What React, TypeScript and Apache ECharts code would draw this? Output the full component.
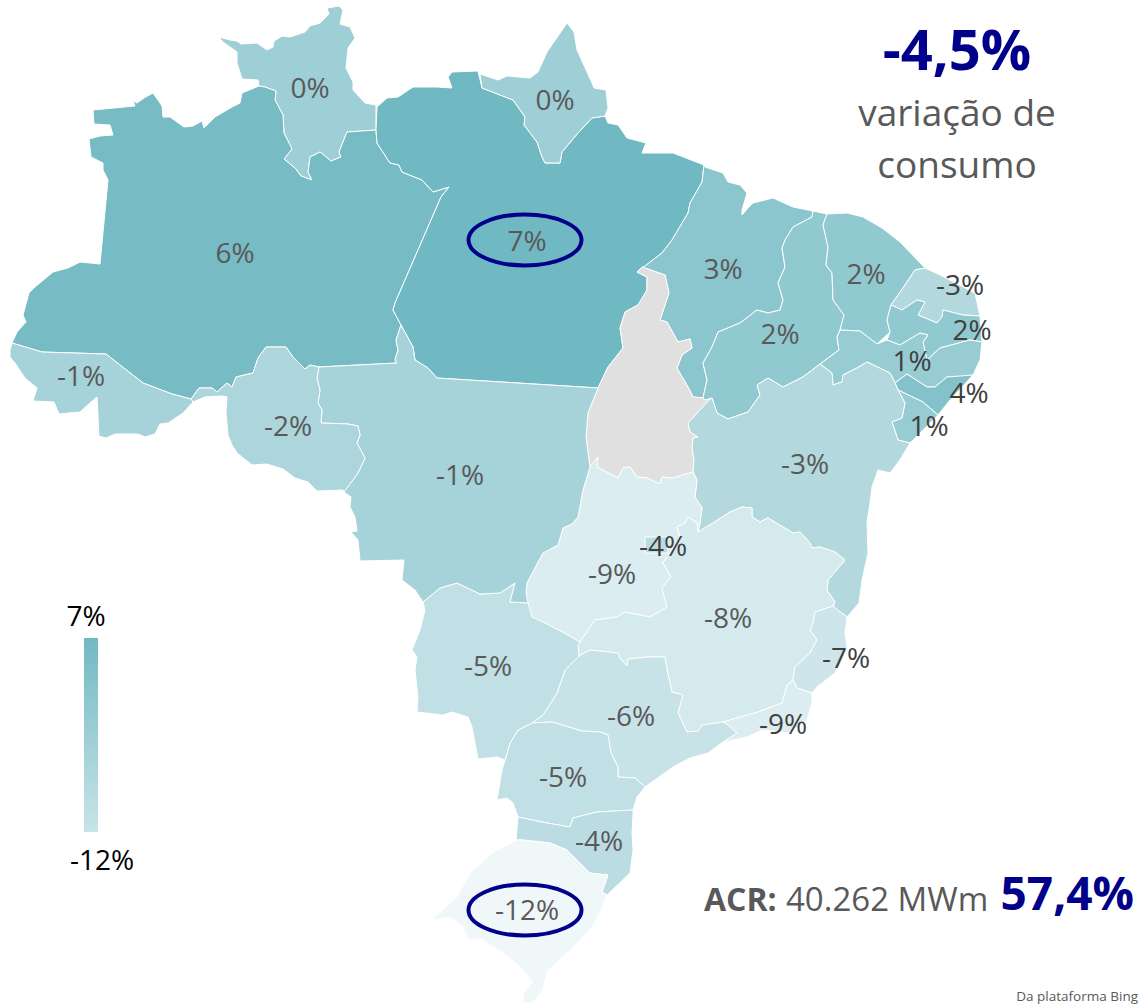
import React, { useEffect, useRef } from "react";
import * as echarts from "echarts";

type P = [number, number];

// Region outlines, in page pixels
const RORAIMA: P[] = [[219,37],[230,40],[237,41],[241,44],[257,43],[267,50],[273,47],[274,41],[282,36],[290,37],[305,32],[310,26],[320,23],[329,14],[327,8],[339,6],[343,10],[340,24],[350,27],[355,38],[348,48],[346,68],[353,82],[353,90],[365,103],[376,105],[376,130],[347,132],[339,152],[341,157],[331,161],[320,152],[310,157],[308,172],[312,180],[301,176],[295,168],[284,159],[292,149],[284,133],[283,115],[275,100],[276,91],[265,87],[259,86],[258,80],[242,79],[237,63],[237,52],[223,42]];
const AMAZONAS: P[] = [[93,110],[135,106],[133,101],[137,103],[144,98],[153,93],[162,106],[163,117],[170,117],[184,127],[193,126],[202,121],[204,128],[215,117],[232,107],[240,103],[242,93],[259,86],[265,87],[276,91],[275,100],[283,115],[284,133],[292,149],[284,159],[295,168],[301,176],[312,180],[308,172],[310,157],[320,152],[331,161],[341,157],[339,152],[347,132],[376,130],[377,143],[390,163],[399,165],[402,172],[422,180],[433,192],[449,187],[441,197],[395,303],[393,310],[401,325],[396,340],[398,350],[395,360],[397,363],[319,367],[310,365],[305,369],[298,362],[293,357],[286,347],[266,347],[258,358],[253,373],[236,377],[232,387],[227,383],[217,392],[212,388],[199,388],[191,399],[172,394],[143,383],[106,354],[42,352],[12,343],[17,332],[26,322],[23,315],[29,293],[35,287],[53,272],[68,268],[80,262],[100,264],[108,180],[103,170],[103,163],[91,157],[89,139],[100,136],[113,135],[110,125],[94,124]];
const PARA: P[] = [[377,107],[387,98],[398,97],[413,87],[437,87],[452,88],[448,77],[452,72],[478,71],[482,88],[513,100],[525,117],[524,125],[537,142],[542,157],[545,163],[560,163],[562,152],[578,133],[592,118],[605,116],[608,123],[618,125],[627,138],[646,143],[642,153],[673,153],[704,165],[702,182],[690,203],[688,213],[672,240],[662,253],[637,272],[647,277],[647,290],[638,305],[625,312],[620,328],[623,348],[608,367],[598,388],[437,378],[428,368],[415,360],[413,347],[401,325],[393,310],[395,303],[441,197],[449,187],[433,192],[422,180],[402,172],[399,165],[390,163],[377,143],[376,130]];
const AMAPA: P[] = [[480,74],[498,80],[507,76],[530,78],[538,72],[547,52],[567,23],[574,32],[577,50],[592,83],[594,88],[606,90],[608,108],[605,116],[592,118],[578,133],[562,152],[560,163],[545,163],[542,157],[537,142],[524,125],[525,117],[513,100],[482,88]];
const MARANHAO: P[] = [[705,167],[723,173],[728,182],[740,185],[747,193],[742,210],[742,215],[748,208],[753,203],[773,198],[793,207],[813,211],[812,217],[793,227],[785,240],[782,248],[785,267],[778,283],[783,300],[780,310],[768,313],[757,310],[740,323],[718,332],[712,347],[703,363],[707,380],[703,398],[693,397],[688,387],[677,368],[682,355],[692,348],[690,339],[678,342],[667,322],[660,320],[669,293],[665,275],[642,267],[637,272],[662,253],[672,240],[688,213],[690,203],[702,182],[704,165]];
const TOCANTINS: P[] = [[637,272],[642,267],[665,275],[669,293],[660,320],[667,322],[678,342],[690,339],[692,348],[682,355],[677,368],[688,387],[693,397],[703,398],[709,400],[700,410],[688,423],[690,432],[698,437],[693,438],[692,448],[694,460],[693,472],[673,478],[662,477],[660,484],[647,478],[637,477],[630,467],[623,468],[618,478],[597,467],[598,457],[590,467],[586,437],[588,413],[598,388],[608,367],[623,348],[620,328],[625,312],[638,305],[647,290],[647,277]];
const PIAUI: P[] = [[813,211],[827,214],[823,225],[828,247],[826,265],[832,273],[833,300],[844,315],[840,330],[837,337],[839,350],[820,364],[803,377],[783,387],[768,378],[757,385],[760,395],[748,412],[728,419],[717,413],[712,398],[705,400],[703,398],[707,380],[703,363],[712,347],[718,332],[740,323],[757,310],[768,313],[780,310],[783,300],[778,283],[785,267],[782,248],[785,240],[793,227],[812,217]];
const CEARA: P[] = [[827,214],[847,213],[863,217],[882,228],[900,242],[925,268],[915,270],[903,288],[891,305],[887,320],[890,332],[877,344],[860,331],[840,330],[844,315],[833,300],[832,273],[826,265],[828,247],[823,225]];
const RIO_GRANDE_NORTE: P[] = [[915,270],[925,268],[940,275],[975,293],[980,316],[963,315],[943,310],[942,317],[937,323],[918,315],[925,302],[917,300],[902,310],[891,305],[903,288]];
const PARAIBA: P[] = [[891,305],[902,310],[917,300],[925,302],[918,315],[937,323],[942,317],[943,310],[963,315],[980,316],[982,342],[970,340],[940,348],[927,360],[923,342],[928,335],[920,333],[900,345],[887,340],[890,332],[887,320]];
const PERNAMBUCO: P[] = [[840,330],[860,331],[877,344],[887,340],[900,345],[920,333],[928,335],[923,342],[927,360],[940,348],[970,340],[982,342],[980,360],[973,375],[960,377],[947,377],[935,387],[927,387],[907,374],[895,383],[890,373],[867,362],[857,368],[843,375],[842,382],[833,385],[832,373],[820,364],[839,350],[837,337]];
const ALAGOAS: P[] = [[895,383],[907,374],[927,387],[935,387],[947,377],[973,375],[950,400],[938,415],[923,402],[898,390]];
const SERGIPE: P[] = [[898,390],[923,402],[938,415],[910,443],[898,440],[892,422],[902,418],[905,403]];
const BAHIA: P[] = [[709,400],[712,398],[717,413],[728,419],[748,412],[760,395],[757,385],[768,378],[783,387],[803,377],[820,364],[832,373],[833,385],[842,382],[843,375],[857,368],[867,362],[890,373],[895,383],[898,390],[905,403],[902,418],[892,422],[898,440],[910,443],[900,460],[890,473],[878,470],[872,487],[870,503],[867,523],[868,553],[862,580],[859,603],[847,617],[833,607],[835,602],[827,590],[828,580],[845,560],[835,552],[820,547],[812,548],[810,543],[800,532],[793,533],[768,518],[760,522],[752,517],[752,508],[742,507],[730,512],[713,523],[698,532],[700,523],[702,508],[695,497],[697,480],[693,472],[694,460],[692,448],[693,438],[698,437],[690,432],[688,423],[700,410]];
const GOIAS: P[] = [[597,467],[618,478],[623,468],[630,467],[637,477],[647,478],[660,484],[662,477],[673,478],[693,472],[697,480],[695,497],[702,508],[700,523],[698,532],[697,523],[688,517],[685,523],[677,527],[680,537],[667,557],[663,563],[671,577],[662,588],[667,607],[650,617],[625,612],[617,617],[595,620],[580,642],[568,635],[543,622],[535,620],[528,610],[526,593],[527,583],[538,562],[543,553],[558,545],[563,528],[572,524],[578,517],[583,490],[590,467],[598,457]];
const DISTRITO_FEDERAL: P[] = [[645,537],[667,537],[668,553],[645,553]];
const MINAS_GERAIS: P[] = [[698,532],[713,523],[730,512],[742,507],[752,508],[752,517],[760,522],[768,518],[793,533],[800,532],[810,543],[812,548],[820,547],[835,552],[845,560],[828,580],[827,590],[835,602],[833,606],[815,612],[813,623],[810,630],[817,640],[810,653],[795,667],[793,680],[787,685],[782,703],[758,712],[723,722],[702,725],[698,731],[687,732],[678,713],[683,695],[672,692],[667,670],[665,657],[647,657],[628,659],[627,666],[620,658],[618,653],[590,650],[579,656],[578,645],[580,642],[595,620],[617,617],[625,612],[650,617],[667,607],[662,588],[671,577],[663,563],[667,557],[680,537],[677,527],[685,523],[688,517],[697,523]];
const ESPIRITO_SANTO: P[] = [[833,606],[847,617],[845,633],[847,647],[835,673],[817,687],[812,693],[797,688],[793,680],[795,667],[810,653],[817,640],[810,630],[813,623],[815,612]];
const RIO_DE_JANEIRO: P[] = [[793,680],[797,688],[812,693],[812,703],[807,720],[790,733],[762,730],[747,737],[723,742],[737,733],[728,725],[723,722],[758,712],[782,703],[787,685]];
const SAO_PAULO: P[] = [[579,656],[590,650],[618,653],[620,658],[627,666],[628,659],[647,657],[665,657],[667,670],[672,692],[683,695],[678,713],[687,732],[698,731],[702,725],[723,722],[728,725],[737,733],[723,742],[708,753],[690,758],[673,767],[645,787],[635,778],[618,777],[618,767],[611,753],[608,735],[600,732],[582,731],[552,722],[532,723],[543,715],[557,693],[565,670],[578,657]];
const PARANA: P[] = [[532,723],[552,722],[582,731],[600,732],[608,735],[611,753],[618,767],[618,777],[635,778],[645,787],[637,797],[633,810],[597,812],[573,818],[570,827],[547,823],[518,817],[513,803],[507,798],[497,800],[502,770],[505,760],[510,743],[518,730]];
const MATO_GROSSO_SUL: P[] = [[423,602],[440,588],[457,583],[480,594],[500,593],[515,583],[510,602],[528,603],[532,617],[543,622],[568,635],[580,642],[578,645],[579,656],[565,670],[557,693],[543,715],[532,723],[518,730],[510,743],[505,760],[497,757],[478,759],[472,727],[468,717],[452,712],[443,715],[417,712],[418,697],[415,670],[417,657],[412,650],[420,630],[425,610]];
const MATO_GROSSO: P[] = [[401,325],[413,347],[415,360],[428,368],[437,378],[598,388],[588,413],[586,437],[590,467],[583,490],[578,517],[572,524],[563,528],[558,545],[543,553],[538,562],[527,583],[526,593],[528,603],[510,602],[515,583],[500,593],[480,594],[457,583],[440,588],[423,602],[415,590],[402,580],[404,560],[360,561],[358,540],[351,532],[357,531],[355,517],[350,507],[351,497],[344,492],[358,473],[365,458],[357,443],[360,435],[358,426],[348,424],[321,423],[322,410],[318,403],[320,390],[317,378],[319,367],[397,363],[395,360],[398,350],[396,340]];
const RONDONIA: P[] = [[319,367],[317,378],[320,390],[318,403],[322,410],[321,423],[348,424],[358,426],[360,435],[357,443],[365,458],[358,473],[344,492],[343,490],[317,491],[308,482],[295,478],[283,469],[267,464],[252,465],[237,453],[232,445],[228,435],[226,413],[227,397],[222,396],[205,397],[193,402],[191,399],[199,388],[212,388],[217,392],[227,383],[232,387],[236,377],[253,373],[258,358],[266,347],[286,347],[293,357],[298,362],[305,369],[310,365]];
const ACRE: P[] = [[12,343],[42,352],[106,354],[143,383],[172,394],[191,399],[193,402],[183,413],[168,423],[160,424],[155,434],[145,437],[138,434],[115,434],[106,438],[99,436],[97,397],[90,403],[80,412],[59,414],[54,402],[33,401],[37,388],[25,378],[15,363],[10,357],[10,350]];
const SANTA_CATARINA: P[] = [[518,817],[547,823],[570,827],[573,818],[597,812],[633,810],[633,815],[632,833],[633,850],[630,873],[607,895],[602,892],[608,875],[590,873],[580,863],[567,850],[550,843],[523,840],[516,840],[517,830]];
const RIO_GRANDE_SUL: P[] = [[516,840],[523,840],[550,843],[567,850],[580,863],[590,873],[608,875],[602,892],[607,895],[600,913],[590,930],[573,947],[547,972],[543,990],[532,1003],[523,1003],[524,993],[533,982],[520,967],[503,953],[480,938],[468,940],[463,927],[450,917],[432,920],[457,897],[470,873],[492,853]];

// Draw order, names, values (null = no data) and label anchors
const STATES = ["Roraima","Amazonas","Pará","Amapá","Maranhão","Tocantins","Piauí","Ceará","Rio Grande do Norte","Paraíba","Pernambuco","Alagoas","Sergipe","Bahia","Goiás","Distrito Federal","Minas Gerais","Espírito Santo","Rio de Janeiro","São Paulo","Paraná","Mato Grosso do Sul","Mato Grosso","Rondônia","Acre","Santa Catarina","Rio Grande do Sul"];
const OUTLINES: P[][] = [RORAIMA,AMAZONAS,PARA,AMAPA,MARANHAO,TOCANTINS,PIAUI,CEARA,RIO_GRANDE_NORTE,PARAIBA,PERNAMBUCO,ALAGOAS,SERGIPE,BAHIA,GOIAS,DISTRITO_FEDERAL,MINAS_GERAIS,ESPIRITO_SANTO,RIO_DE_JANEIRO,SAO_PAULO,PARANA,MATO_GROSSO_SUL,MATO_GROSSO,RONDONIA,ACRE,SANTA_CATARINA,RIO_GRANDE_SUL];
const VALUES: (number | null)[] = [0,6,7,0,3,null,2,2,-3,2,1,4,1,-3,-9,-4,-8,-7,-9,-6,-5,-5,-1,-2,-1,-4,-12];
const ANCHORS: P[] = [[310,87],[235,252],[527,240],[555,99],[723,268],[640,400],[780,333],[866,273],[960,284],[972,329],[912,360],[969,392],[929,425],[805,463],[612,573],[663,545],[728,617],[846,657],[783,723],[631,715],[563,776],[488,665],[460,474],[288,425],[81,375],[599,840],[527,909]];
const DARK_LABELS = ["Rio Grande do Norte","Paraíba","Pernambuco","Alagoas","Sergipe","Distrito Federal","Espírito Santo","Rio de Janeiro"];

const HEADLINE = "-4,5%";
const SUBTITLE = ["variação de", "consumo"];
const LEGEND_LABELS = ["7%", "-12%"];
const FONT = "'Open Sans', sans-serif";
const NAVY = "#00008b";
const GREY = "#595959";

const geoJson = {
  type: "FeatureCollection",
  features: STATES.map((name, i) => ({
    type: "Feature",
    properties: { name, cp: [ANCHORS[i][0], -ANCHORS[i][1]] },
    geometry: {
      type: "Polygon",
      coordinates: [[...OUTLINES[i], OUTLINES[i][0]].map(([x, y]) => [x, -y])],
    },
  })),
};

export default function App() {
  const ref = useRef<HTMLDivElement>(null);
  useEffect(() => {
    document.body.style.margin = "0";
    echarts.registerMap("brasil", geoJson as any);
    const chart = echarts.init(ref.current!, null, { renderer: "svg" });
    const text = (t: string, x: number, y: number, size: number, fill: string, align = "center", weight = "normal") => ({
      type: "text",
      x,
      y,
      z: 100,
      style: { text: t, fill, fontSize: size, fontWeight: weight, fontFamily: FONT, align, verticalAlign: "middle" },
    });
    const ring = (cx: number, cy: number) => ({
      type: "ellipse",
      z: 99,
      shape: { cx, cy, rx: 56.5, ry: 25.5 },
      style: { fill: "none", stroke: NAVY, lineWidth: 4 },
    });
    chart.setOption({
      animation: false,
      backgroundColor: "#ffffff",
      visualMap: {
        show: false,
        min: -12,
        max: 7,
        seriesIndex: 0,
        inRange: { color: ["#eff7f9", "#70b8c2"] },
      },
      series: [
        {
          type: "map",
          map: "brasil",
          silent: true,
          roam: false,
          aspectScale: 1,
          boundingCoords: [[0, 0], [1140, -1004]],
          left: 0,
          top: 0,
          width: 1140,
          height: 1004,
          itemStyle: { areaColor: "#e0e0e0", borderColor: "#ffffff", borderWidth: 1 },
          emphasis: { disabled: true },
          select: { disabled: true },
          label: {
            show: true,
            fontFamily: FONT,
            fontSize: 28,
            color: GREY,
            formatter: (p: any) => (p.value == null || isNaN(p.value) ? "" : `${p.value}%`),
          },
          data: STATES.map((name, i) => ({
            name,
            value: VALUES[i],
            label: { color: DARK_LABELS.includes(name) ? "#404040" : GREY },
          })),
        },
      ],
      graphic: {
        elements: [
          ring(525, 240),
          ring(525, 910),
          text(HEADLINE, 957, 48, 56, NAVY, "center", "bold"),
          text(SUBTITLE[0], 957, 111, 37, GREY),
          text(SUBTITLE[1], 957, 163, 37, GREY),
          {
            type: "rect",
            z: 100,
            shape: { x: 84, y: 638, width: 14, height: 194 },
            style: {
              fill: new echarts.graphic.LinearGradient(0, 0, 0, 1, [
                { offset: 0, color: "#72b9c3" },
                { offset: 1, color: "#c7e4e7" },
              ]),
            },
          },
          text(LEGEND_LABELS[0], 86, 615, 28, "#000000"),
          text(LEGEND_LABELS[1], 102, 859, 28, "#000000"),
          text("ACR:", 704, 898, 32, GREY, "left", "bold"),
          text("40.262 MWm", 786, 898, 33, GREY, "left"),
          text("57,4%", 1134, 892, 46, NAVY, "right", "bold"),
          text("Da plataforma Bing", 1138, 996, 13.5, GREY, "right"),
        ],
      },
    });
    return () => chart.dispose();
  }, []);
  return <div ref={ref} style={{ width: 1140, height: 1004 }} />;
}
